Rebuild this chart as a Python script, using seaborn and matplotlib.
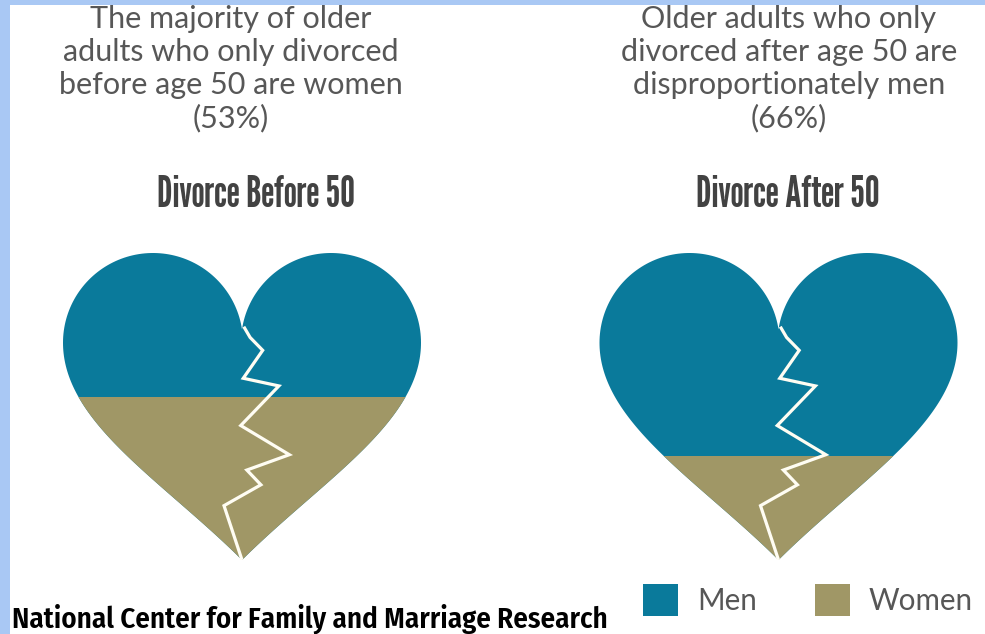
import numpy as np
import pandas as pd
import matplotlib
matplotlib.use("Agg")
import matplotlib.pyplot as plt
from matplotlib import font_manager
from matplotlib.patches import Polygon, Rectangle, Patch
import seaborn as sns

# ---- data -------------------------------------------------------------
periods = ["Divorce Before 50", "Divorce After 50"]
men_share = [47, 66]
women_share = [53, 34]
series_names = ["Men", "Women"]
notes = [
    ["The majority of older", "adults who only divorced",
     "before age 50 are women", "(53%)"],
    ["Older adults who only", "divorced after age 50 are",
     "disproportionately men", "(66%)"],
]
source = "National Center for Family and Marriage Research"

# ---- style ------------------------------------------------------------
MEN_C = "#0a7a9b"
WOMEN_C = "#a09766"
BORDER_C = "#a9c8f4"
NOTE_C = "#575757"
TITLE_C = "#424242"

sns.set_theme(style="white")
installed = {f.name for f in font_manager.fontManager.ttflist}


def pick(cands):
    for c in cands:
        if c in installed:
            return c
    return "DejaVu Sans"


TITLE_F = pick(["League Gothic", "Oswald", "Antonio", "Fira Sans Extra Condensed",
                "Fira Sans Condensed"])
NOTE_F = pick(["Lato", "PT Sans", "Open Sans"])
SOURCE_F = pick(["Fira Sans Condensed", "Roboto Condensed", "Archivo Narrow",
                 "PT Sans Narrow", "Libre Franklin"])
plt.rcParams["font.family"] = [NOTE_F, "DejaVu Sans"]

W, H = 985, 634
fig = plt.figure(figsize=(W / 100, H / 100), dpi=100)
fig.patch.set_facecolor("white")
renderer = fig.canvas.get_renderer()


def fx(px):
    return px / W


def fy(py):
    return 1 - py / H


def fit_width(artists, ref, target_px):
    """Scale the font size of all artists so that `ref` is target_px wide."""
    w = ref.get_window_extent(renderer).width
    k = target_px / w
    for a in artists:
        a.set_fontsize(a.get_fontsize() * k)


# light blue frame strips (left and top)
fig.patches.append(Rectangle((0, 0), fx(10), 1, transform=fig.transFigure,
                             facecolor=BORDER_C, edgecolor="none", zorder=0))
fig.patches.append(Rectangle((0, fy(5)), 1, 5 / H, transform=fig.transFigure,
                             facecolor=BORDER_C, edgecolor="none", zorder=0))

# ---- axes: one heart per category -------------------------------------
x_left, x_right = -0.35, 1.35
unit_px = 536.5
ax_l = 242 + x_left * unit_px
ax_r = 242 + x_right * unit_px
ax = fig.add_axes([fx(ax_l), fy(560), fx(ax_r - ax_l), (560 - 253) / H])
ax.set_facecolor("none")

bar_w = 360 / unit_px

df = pd.DataFrame({"period": periods, "men": men_share, "women": women_share})
df["total"] = df["men"] + df["women"]

# stacked bars: full height in the men colour, women share on top of it from 0
sns.barplot(data=df, x="period", y="total", order=periods, color=MEN_C,
            saturation=1, width=bar_w, errorbar=None, ax=ax)
sns.barplot(data=df, x="period", y="women", order=periods, color=WOMEN_C,
            saturation=1, width=bar_w, errorbar=None, ax=ax)

ax.set_xlim(x_left, x_right)
ax.set_ylim(0, 100)


def heart_outline(n=90):
    """Heart outline in unit coords: u in [-1, 1], v from 0 (tip) to 1 (top)."""
    r, d, drop = 90.0, 89.0, 218.0
    half, height = 180.0, 308.0
    notch_ang = np.arctan2(np.sqrt(r ** 2 - d ** 2), d)
    t = np.linspace(0, 1, n)
    p0 = np.array([0.0, -drop])
    p1 = np.array([-80.0, -drop + 80.0])
    p2 = np.array([-(d + r), -80.0])
    p3 = np.array([-(d + r), 0.0])
    bez = (((1 - t) ** 3)[:, None] * p0 + (3 * (1 - t) ** 2 * t)[:, None] * p1
           + (3 * (1 - t) * t ** 2)[:, None] * p2 + (t ** 3)[:, None] * p3)
    a = np.linspace(np.pi, notch_ang, n)
    arc = np.column_stack([-d + r * np.cos(a), r * np.sin(a)])
    left = np.vstack([bez, arc[1:]])
    right = left[::-1].copy()
    right[:, 0] *= -1
    pts = np.vstack([left, right[1:]])
    return pts[:, 0] / half, (pts[:, 1] + drop) / height


hu, hv = heart_outline()
hearts = []
for i in range(len(periods)):
    verts = np.column_stack([i + hu * bar_w / 2, hv * 100])
    hearts.append(Polygon(verts, closed=True, transform=ax.transData,
                          facecolor="none", edgecolor="none"))

for p in ax.patches:
    idx = int(round(p.get_x() + p.get_width() / 2))
    p.set_edgecolor("none")
    p.set_linewidth(0)
    p.set_clip_path(hearts[idx])

# zig-zag crack through each heart
crack_u = np.array([0.01, 0.045, 0.115, 0.007, 0.205, -0.007, 0.263,
                    0.027, 0.105, -0.10, 0.0])
crack_v = np.array([0.76, 0.725, 0.683, 0.592, 0.567, 0.438, 0.343,
                    0.293, 0.245, 0.177, 0.0])
for i in range(len(periods)):
    ax.plot(i + crack_u * bar_w / 2, crack_v * 100, color="#fffdf3", lw=2.3,
            solid_joinstyle="miter", solid_capstyle="butt", zorder=5)

ax.set_xticks([])
ax.set_yticks([])
ax.set_xlabel("")
ax.set_ylabel("")
for s in ax.spines.values():
    s.set_visible(False)

# category titles above the hearts
title_dx = [14, 9]
titles = []
for i, name in enumerate(periods):
    titles.append(ax.annotate(name, xy=(i, H - 207), xycoords=("data", "figure pixels"),
                              xytext=(title_dx[i], 0), textcoords="offset pixels",
                              ha="center", va="baseline", fontsize=24,
                              fontweight="bold", family=[TITLE_F, "DejaVu Sans"],
                              color=TITLE_C))
fit_width(titles, titles[0], 198)

# explanatory notes at the top
note_x = [231, 789]
note_base = [28, 61, 94, 127]
note_texts = []
for block, cx in zip(notes, note_x):
    for line, by in zip(block, note_base):
        note_texts.append(fig.text(fx(cx), fy(by), line, ha="center", va="baseline",
                                   fontsize=20, fontweight="normal", color=NOTE_C,
                                   family=[NOTE_F, "DejaVu Sans"]))
fit_width(note_texts, note_texts[1], 336)

# legend
probe = fig.text(0, 0, series_names[1], fontsize=20, family=[NOTE_F, "DejaVu Sans"])
leg_size = 20 * 104 / probe.get_window_extent(renderer).width
probe.remove()
fpx = leg_size * 100 / 72
handles = [Patch(facecolor=c, edgecolor="none") for c in (MEN_C, WOMEN_C)]
leg = fig.legend(handles, series_names, loc="center left",
                 bbox_to_anchor=(fx(643), fy(600)), ncol=2, frameon=False,
                 prop={"family": [NOTE_F, "DejaVu Sans"], "size": leg_size},
                 handlelength=35 / fpx, handleheight=37 / fpx,
                 handletextpad=19 / fpx, columnspacing=58 / fpx,
                 borderpad=0, borderaxespad=0)
for t in leg.get_texts():
    t.set_color(NOTE_C)

# source line
src = fig.text(fx(12), fy(628), source, ha="left", va="baseline", fontsize=19,
               fontweight="semibold", family=[SOURCE_F, "DejaVu Sans"], color="black")
fit_width([src], src, 592)

fig.savefig("out.png", dpi=100, facecolor="white")
